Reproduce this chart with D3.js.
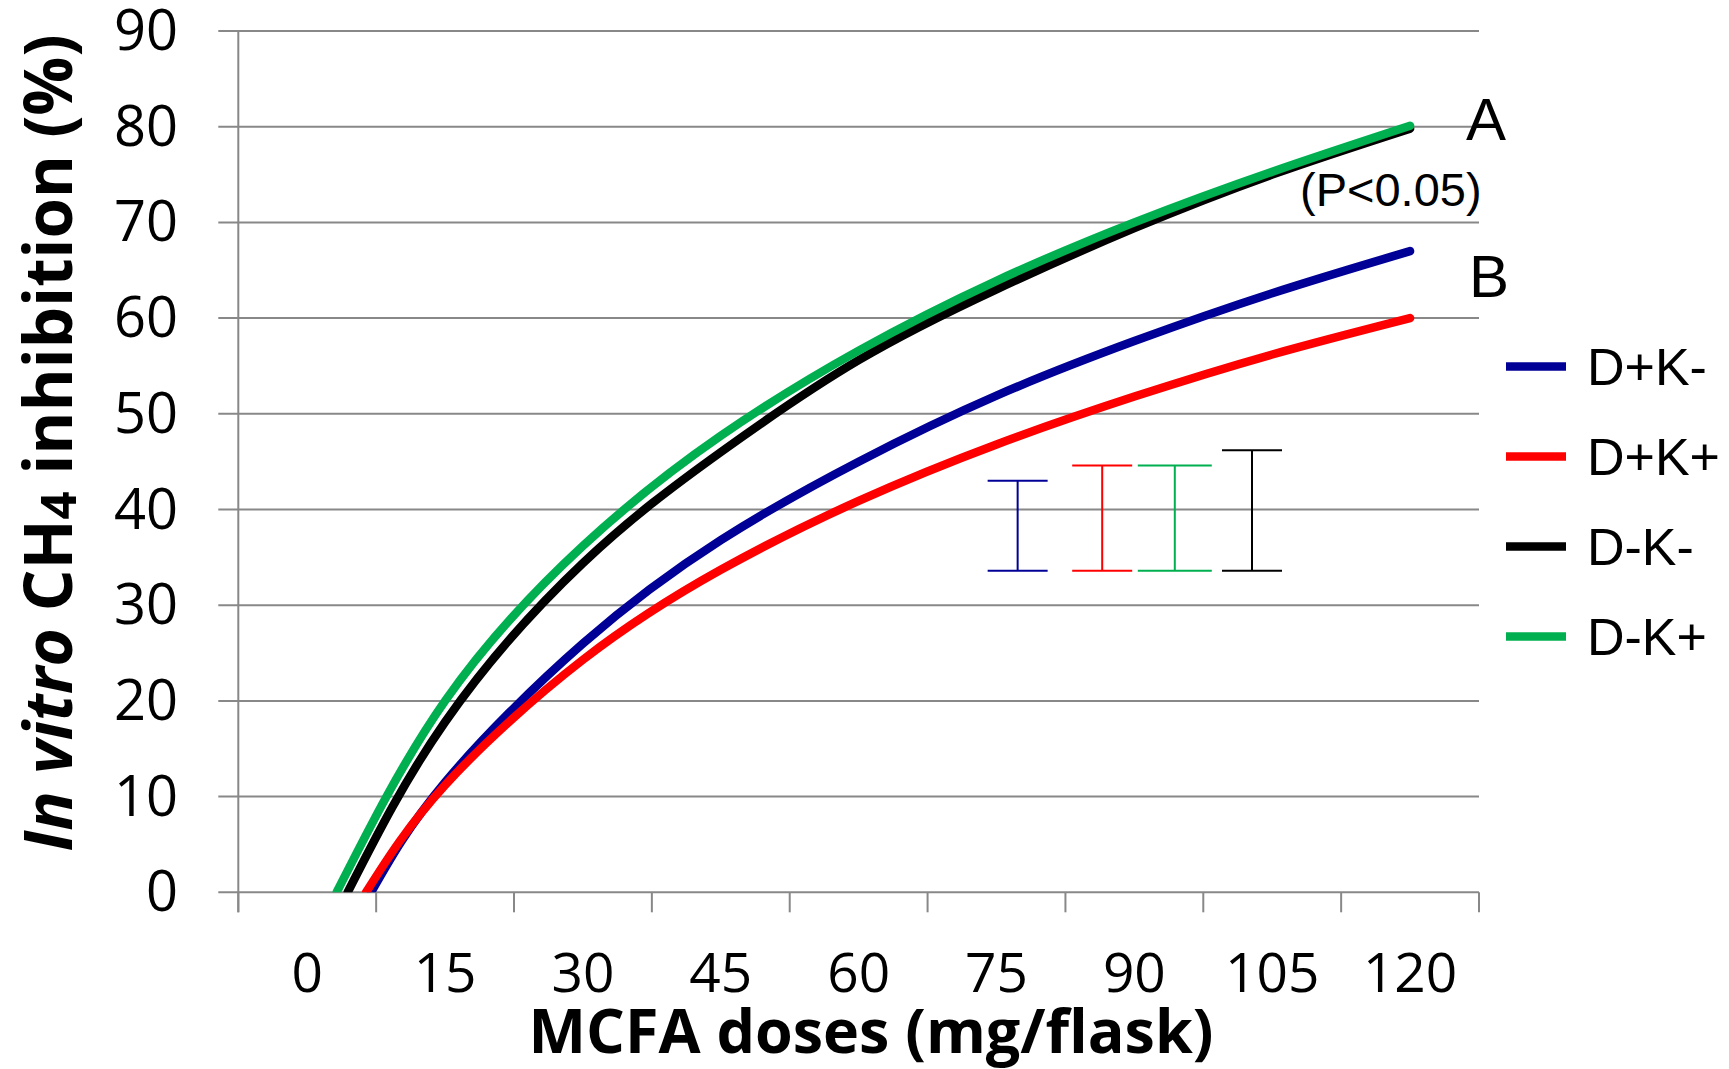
<!DOCTYPE html>
<html>
<head>
<meta charset="utf-8">
<script src="https://cdn.jsdelivr.net/npm/d3@7"></script>
<style>
  html, body { margin: 0; padding: 0; background: #fff; }
  svg { display: block; }
</style>
</head>
<body>
<script>
// ---------------- data ----------------
const doseLabels = ["0", "15", "30", "45", "60", "75", "90", "105", "120"];
const doses = [0, 15, 30, 45, 60, 75, 90, 105, 120];
const yTicks = [0, 10, 20, 30, 40, 50, 60, 70, 80, 90];

const seriesNames = ["D+K-", "D+K+", "D-K-", "D-K+"];
// dose at which each fitted curve leaves the 0 line
const zeroCrossDoses = [6.95, 6.4, 4.4, 3.2];
// curve values at doses 15 … 120
const curveDoses = [15, 30, 45, 60, 75, 90, 105, 120];
const dPlusKMinus  = [11.5, 26.0, 36.8, 45.0, 51.9, 57.6, 62.6, 67.0];
const dPlusKPlus   = [11.2, 24.3, 33.7, 40.9, 46.8, 51.8, 56.2, 60.0];
const dMinusKMinus = [17.8, 34.4, 46.0, 55.6, 63.0, 69.4, 75.0, 79.8];
const dMinusKPlus  = [20.0, 36.2, 47.7, 56.6, 63.9, 70.0, 75.3, 80.1];

// error bars (SEM indicators)
const errorBarSeries = ["D+K-", "D+K+", "D-K+", "D-K-"];
const errorBarDoses  = [77.3, 86.5, 94.4, 102.8];
const errorBarLow    = [33.6, 33.6, 33.6, 33.6];
const errorBarHigh   = [43.0, 44.6, 44.6, 46.2];

const sigLabels = ["A", "(P<0.05)", "B"];

// ---------------- styles ----------------
const colors = { "D+K-": "#000096", "D+K+": "#ff0000", "D-K-": "#000000", "D-K+": "#00b050" };
const capHalf = { "D+K-": 30, "D+K+": 30, "D-K+": 37, "D-K-": 30 };
const gridColor = "#888888";

const W = 1729, H = 1069;
const svg = d3.select("body").append("svg").attr("width", W).attr("height", H);
svg.append("rect").attr("width", W).attr("height", H).attr("fill", "#fff");

const step = doses[1] - doses[0];
const x = d3.scaleLinear().domain([doses[0] - step / 2, doses[doses.length - 1] + step / 2]).range([238.3, 1479]);
const y = d3.scaleLinear().domain([0, 90]).range([892.3, 31]);

// gridlines + y tick marks
svg.append("g").selectAll("line").data(yTicks).join("line")
  .attr("x1", x.range()[0] - 20).attr("x2", x.range()[1])
  .attr("y1", d => y(d)).attr("y2", d => y(d))
  .attr("stroke", gridColor).attr("stroke-width", 2);

// y axis line
svg.append("line")
  .attr("x1", x.range()[0]).attr("x2", x.range()[0])
  .attr("y1", y(90)).attr("y2", y(0) + 20)
  .attr("stroke", gridColor).attr("stroke-width", 2);

// x tick marks on category boundaries
const boundaries = d3.range(doses.length + 1).map(i => doses[0] - step / 2 + i * step);
svg.append("g").selectAll("line").data(boundaries).join("line")
  .attr("x1", d => x(d)).attr("x2", d => x(d))
  .attr("y1", y(0)).attr("y2", y(0) + 20)
  .attr("stroke", gridColor).attr("stroke-width", 2);

// y tick labels
svg.append("g").selectAll("text").data(yTicks).join("text")
  .attr("x", 178).attr("y", d => y(d) + 19)
  .attr("text-anchor", "end")
  .attr("font-family", "'Open Sans', sans-serif").attr("font-size", 56)
  .text(d => d);

// x tick labels
svg.append("g").selectAll("text").data(doses).join("text")
  .attr("x", d => x(d)).attr("y", 992)
  .attr("text-anchor", "middle")
  .attr("font-family", "'Open Sans', sans-serif").attr("font-size", 55)
  .text((d, i) => doseLabels[i]);

// axis titles
svg.append("text")
  .attr("x", 871).attr("y", 1053).attr("text-anchor", "middle")
  .attr("font-family", "'Open Sans', sans-serif").attr("font-weight", "bold").attr("font-size", 61)
  .text("MCFA doses (mg/flask)");

const yt = svg.append("text")
  .attr("transform", "translate(72,443) rotate(-90)")
  .attr("text-anchor", "middle")
  .attr("font-family", "'Open Sans', sans-serif").attr("font-weight", "bold").attr("font-size", 65.5);
yt.append("tspan").attr("font-style", "italic").text("In vitro");
yt.append("tspan").text(" CH");
yt.append("tspan").attr("font-size", 49).attr("dy", 4).text("4");
yt.append("tspan").attr("dy", -4).text(" inhibition (%)");

// clip to plot area
svg.append("clipPath").attr("id", "plot")
  .append("rect").attr("x", x.range()[0]).attr("y", 0)
  .attr("width", x.range()[1] - x.range()[0] + 20).attr("height", y(0));

const seriesValues = [dPlusKMinus, dPlusKPlus, dMinusKMinus, dMinusKPlus];
const line = d3.line().x(d => x(d[0])).y(d => y(d[1])).curve(d3.curveNatural);

const curves = svg.append("g").attr("clip-path", "url(#plot)");
seriesNames.forEach((name, i) => {
  const pts = [[zeroCrossDoses[i], 0]].concat(curveDoses.map((d, j) => [d, seriesValues[i][j]]));
  curves.append("path").datum(pts)
    .attr("d", line)
    .attr("fill", "none")
    .attr("stroke", colors[name])
    .attr("stroke-width", 8.5)
    .attr("stroke-linecap", "round")
    .attr("stroke-linejoin", "round");
});

// error bars
const eb = svg.append("g");
errorBarSeries.forEach((name, i) => {
  const cx = x(errorBarDoses[i]);
  const c = colors[name];
  const hw = capHalf[name];
  const g = eb.append("g").attr("stroke", c).attr("stroke-width", 2);
  g.append("line").attr("x1", cx).attr("x2", cx).attr("y1", y(errorBarLow[i])).attr("y2", y(errorBarHigh[i]));
  g.append("line").attr("x1", cx - hw).attr("x2", cx + hw).attr("y1", y(errorBarHigh[i])).attr("y2", y(errorBarHigh[i]));
  g.append("line").attr("x1", cx - hw).attr("x2", cx + hw).attr("y1", y(errorBarLow[i])).attr("y2", y(errorBarLow[i]));
});

// significance labels
svg.append("text").attr("x", 1466).attr("y", 140)
  .attr("font-family", "'Liberation Sans', Arial, sans-serif").attr("font-size", 60).text(sigLabels[0]);
svg.append("text").attr("x", 1300).attr("y", 206)
  .attr("font-family", "'Liberation Sans', Arial, sans-serif").attr("font-size", 47).text(sigLabels[1]);
svg.append("text").attr("x", 1469).attr("y", 297)
  .attr("font-family", "'Liberation Sans', Arial, sans-serif").attr("font-size", 60).text(sigLabels[2]);

// legend
const legY0 = 366.5, legStep = 90;
const leg = svg.append("g");
seriesNames.forEach((name, i) => {
  const ly = legY0 + i * legStep;
  leg.append("line").attr("x1", 1506).attr("x2", 1566).attr("y1", ly).attr("y2", ly)
    .attr("stroke", colors[name]).attr("stroke-width", 8.5);
  leg.append("text").attr("x", 1587).attr("y", ly + 18)
    .attr("font-family", "'Liberation Sans', Arial, sans-serif").attr("font-size", 52)
    .text(name);
});
</script>
</body>
</html>
